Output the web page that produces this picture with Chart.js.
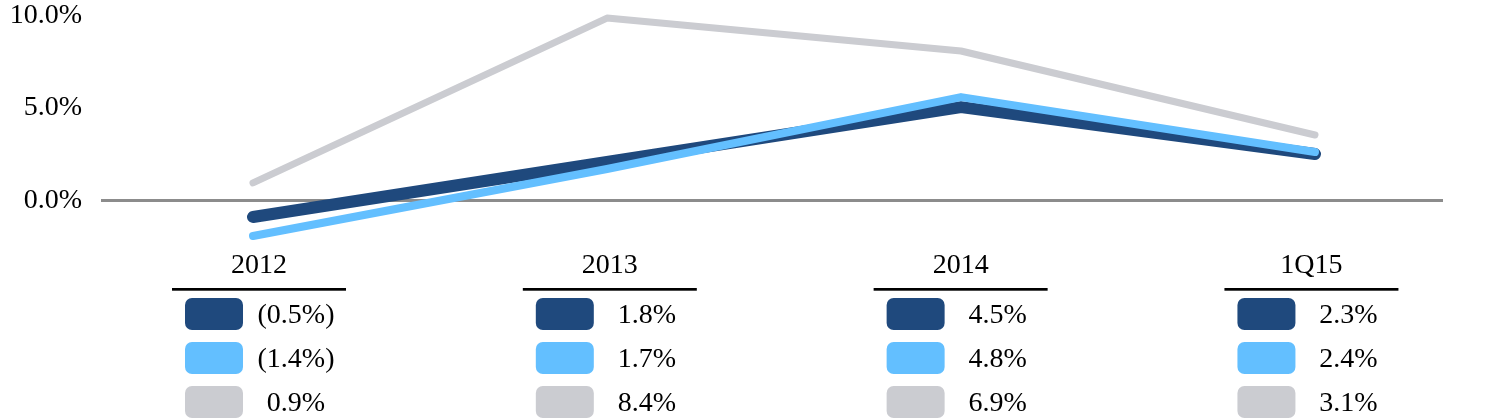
<!DOCTYPE html>
<html>
<head>
<meta charset="utf-8">
<script src="https://cdn.jsdelivr.net/npm/chart.js@4"></script>
<style>
html,body{margin:0;padding:0;background:#fff;}
#wrap{width:1500px;height:420px;position:relative;}
</style>
</head>
<body>
<div id="wrap"><canvas id="c"></canvas></div>
<script>
// categories
const categories = ['2012', '2013', '2014', '1Q15'];
const darkLine  = [-0.89, 2.08, 5.05, 2.51];
const lightLine = [-1.92, 1.70, 5.59, 2.62];
const grayLine  = [0.95, 9.86, 8.08, 3.54];
// table values (%) printed under each category
const darkTable  = [-0.5, 1.8, 4.5, 2.3];
const lightTable = [-1.4, 1.7, 4.8, 2.4];
const grayTable  = [0.9, 8.4, 6.9, 3.1];
// y tick labels
const yTicks = [0, 5, 10];

const DARK = '#1F497D', LIGHT = '#63BFFF', GRAY = '#CBCCD1';
const FONT = '"Liberation Serif", "Times New Roman", serif';

function pts(arr){ return arr.map((v,i)=>({x:i, y:v})); }
function fmt(v){ return v < 0 ? '(' + Math.abs(v).toFixed(1) + '%)' : v.toFixed(1) + '%'; }

const tablePlugin = {
  id: 'tablePlugin',
  afterDraw(chart){
    const ctx = chart.ctx;
    const xs = chart.scales.x;
    const rows = [[darkTable, DARK], [lightTable, LIGHT], [grayTable, GRAY]];
    ctx.save();
    categories.forEach((cat, i) => {
      const p = xs.getPixelForValue(i);
      const cx = 259 + (p - 253) * 0.991;
      ctx.fillStyle = '#000';
      ctx.font = '28px ' + FONT;
      ctx.textAlign = 'center';
      ctx.textBaseline = 'middle';
      ctx.fillText(cat, cx, 266);
      ctx.fillRect(cx - 87, 288, 174, 2.7);
      rows.forEach((r, j) => {
        const top = 298 + j * 44;
        ctx.fillStyle = r[1];
        ctx.beginPath();
        ctx.roundRect(cx - 74, top, 58, 32, 7);
        ctx.fill();
        ctx.fillStyle = '#000';
        ctx.fillText(fmt(r[0][i]), cx + 37, top + 18);
      });
    });
    ctx.restore();
  }
};

new Chart(document.getElementById('c'), {
  type: 'line',
  data: {
    datasets: [
      { label: 'dark', data: pts(darkLine), borderColor: DARK, borderWidth: 12, order: 1 },
      { label: 'light', data: pts(lightLine), borderColor: LIGHT, borderWidth: 8, order: 0 },
      { label: 'gray', data: pts(grayLine), borderColor: GRAY, borderWidth: 7, order: 2 }
    ]
  },
  options: {
    responsive: true,
    maintainAspectRatio: false,
    animation: false,
    devicePixelRatio: 1,
    layout: { padding: { top: 14, bottom: 173.25, left: 0, right: 57 } },
    elements: {
      point: { radius: 0, hoverRadius: 0 },
      line: { borderCapStyle: 'round', borderJoinStyle: 'round', tension: 0, fill: false }
    },
    datasets: { line: { clip: false } },
    plugins: { legend: { display: false }, tooltip: { enabled: false } },
    scales: {
      x: {
        type: 'linear',
        display: false,
        min: -0.4294,
        max: 3.3616
      },
      y: {
        type: 'linear',
        min: -2.5,
        max: 10.081,
        afterBuildTicks: (s) => { s.ticks = yTicks.map(v => ({ value: v })); },
        afterFit: (s) => { s.width = 101; },
        border: { display: false },
        grid: {
          color: (c) => (c.tick && c.tick.value === 0) ? '#8C8C8C' : 'rgba(0,0,0,0)',
          lineWidth: 3,
          drawTicks: true,
          tickLength: 19,
          tickColor: 'rgba(0,0,0,0)'
        },
        ticks: {
          padding: 0,
          color: '#000',
          font: { family: FONT, size: 28, lineHeight: 1 },
          callback: (v) => Number(v).toFixed(1) + '%'
        }
      }
    }
  },
  plugins: [tablePlugin]
});
</script>
</body>
</html>
